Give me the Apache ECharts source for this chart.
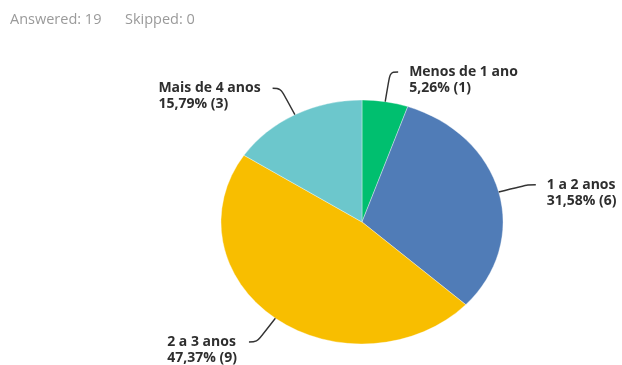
<!DOCTYPE html>
<html>
<head>
<meta charset="utf-8">
<script src="https://cdn.jsdelivr.net/npm/echarts@6/dist/echarts.min.js"></script>
<style>
  html, body { margin: 0; padding: 0; background: #fff; overflow: hidden; }
  #wrap { position: relative; width: 622px; height: 365px; overflow: hidden; }
  #pie, #lab { position: absolute; left: 0; top: 0; width: 622px; height: 365px; }
  #pie { transform: scaleX(1.156); transform-origin: 362px 222px; }
</style>
</head>
<body>
<div id="wrap">
  <div id="pie"></div>
  <div id="lab"></div>
</div>
<script>
// ---- data ----
const categories = ['Menos de 1 ano', '1 a 2 anos', '2 a 3 anos', 'Mais de 4 anos'];
const counts = [1, 6, 9, 3];
const percents = ['5,26', '31,58', '47,37', '15,79'];
const answered = 19;
const skipped = 0;

// ---- styles / geometry ----
const colors = ['#00bf6f', '#507cb7', '#f8be00', '#6cc7cc'];
const CX = 362, CY = 222, R = 122, K = 1.156;
const total = counts.reduce((a, b) => a + b, 0);

const pieData = categories.map((c, i) => ({ name: c, value: counts[i], itemStyle: { color: colors[i] } }));

// Layer 1: the pie (stretched horizontally by CSS to the reference's ellipse)
const pieChart = echarts.init(document.getElementById('pie'), null, { renderer: 'svg' });
pieChart.setOption({
  animation: false,
  series: [{
    type: 'pie',
    center: [CX, CY],
    radius: R,
    startAngle: 90,
    clockwise: true,
    silent: true,
    label: { show: false },
    labelLine: { show: false },
    itemStyle: { borderColor: 'rgba(255,255,255,0.55)', borderWidth: 0.6 },
    data: pieData
  }]
});

// Layer 2: labels and header text
function midAngle(i) {
  let cum = 0;
  for (let k = 0; k < i; k++) cum += counts[k];
  return 2 * Math.PI * (cum + counts[i] / 2) / total;
}

const headStyle = { fontFamily: 'Open Sans', fontSize: 14.5, fontWeight: 'normal', color: '#9a9a9a' };
const labChart = echarts.init(document.getElementById('lab'));
labChart.setOption({
  animation: false,
  title: [
    { text: 'Answered: ' + answered, left: 5, top: 7, textStyle: headStyle },
    { text: 'Skipped: ' + skipped, left: 120, top: 7, textStyle: headStyle }
  ],
  series: [{
    type: 'pie',
    center: [CX, CY],
    radius: R,
    startAngle: 90,
    clockwise: true,
    silent: true,
    avoidLabelOverlap: false,
    itemStyle: { color: 'rgba(0,0,0,0)' },
    label: {
      show: true,
      position: 'outside',
      color: '#2e2e2e',
      fontFamily: 'Open Sans',
      fontWeight: 'bold',
      fontSize: 14,
      lineHeight: 16,
      formatter: p => p.name + '\n' + percents[p.dataIndex] + '% (' + p.value + ')'
    },
    labelLine: { show: true, smooth: 0.35, lineStyle: { color: '#333333', width: 1.4 } },
    labelLayout: function (p) {
      const t = midAngle(p.dataIndex);
      const sx = Math.sin(t), sy = -Math.cos(t);
      const ax = CX + K * R * sx, ay = CY + R * sy;
      const L = 30;
      const p1x = ax + sx * L, p1y = ay + sy * L;
      const right = sx >= 0;
      const ex = p1x + (right ? 8 : -8), ey = p1y;
      const w = p.labelRect.width;
      const lx = right ? ex + 11 : ex - 12 - w;
      return {
        x: lx,
        y: ey - 8,
        align: 'left',
        verticalAlign: 'top',
        labelLinePoints: [[ax, ay], [p1x, p1y], [ex, ey]]
      };
    },
    data: categories.map((c, i) => ({ name: c, value: counts[i] }))
  }]
});
</script>
</body>
</html>
